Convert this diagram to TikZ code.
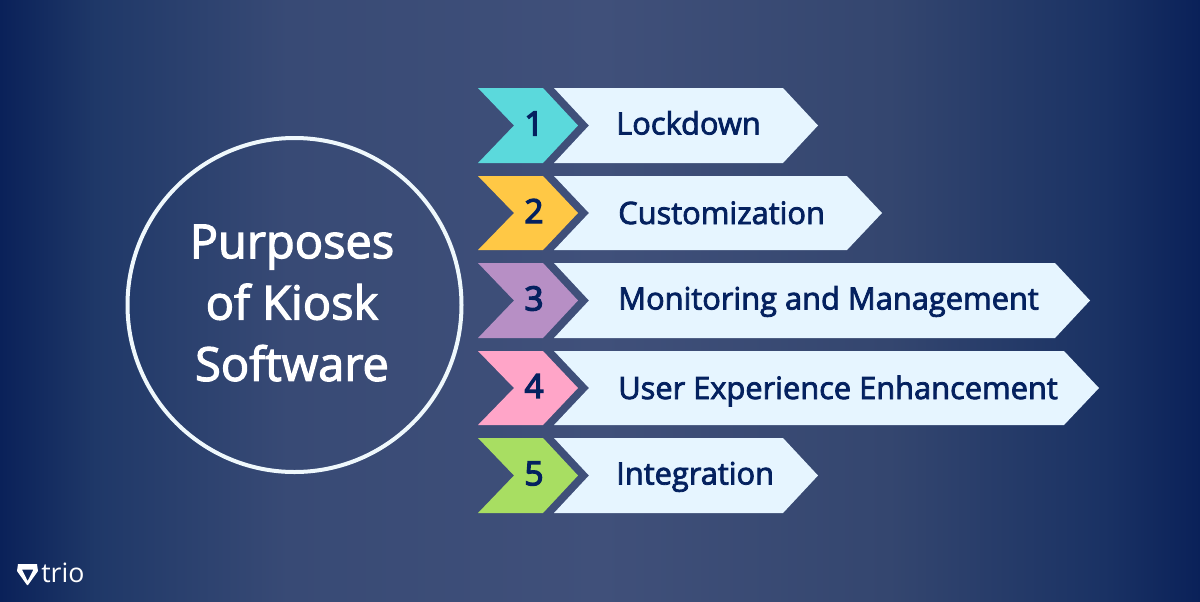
\documentclass[tikz,border=0pt]{standalone}
\usepackage{fontspec}
\setmainfont{Open Sans}
\usepackage{tikz}
\usetikzlibrary{positioning}
\newcommand{\heavy}[2][0.6]{\special{pdf:code 2 Tr #1 w}#2\special{pdf:code 0 Tr 1 w}}
\definecolor{navytext}{HTML}{04215F}
\definecolor{palearrow}{HTML}{E6F5FF}
\definecolor{ringwhite}{HTML}{EFF8FC}
\definecolor{tealtag}{HTML}{5BD9DC}
\definecolor{goldtag}{HTML}{FFC845}
\definecolor{mauvetag}{HTML}{B78FC5}
\definecolor{pinktag}{HTML}{FFA5C8}
\definecolor{greentag}{HTML}{A8DE62}
\definecolor{bgedge}{HTML}{0A2159}
\definecolor{bgouter}{HTML}{1F3868}
\definecolor{bgmid}{HTML}{384A75}
\definecolor{bgpeak}{HTML}{40507A}
\definecolor{bgright}{HTML}{34466F}
\definecolor{bgfar}{HTML}{1A3264}
\pgfdeclarehorizontalshading{bgshade}{100bp}{
  color(0bp)=(bgedge);
  color(25bp)=(bgedge);
  color(29bp)=(bgouter);
  color(37bp)=(bgmid);
  color(50bp)=(bgpeak);
  color(62bp)=(bgright);
  color(71bp)=(bgfar);
  color(75bp)=(bgedge);
  color(100bp)=(bgedge)}
\begin{document}
\begin{tikzpicture}[
  x=0.75pt, y=-0.75pt,
  tagtext/.style={font=\fontsize{25}{30}\selectfont, text=navytext, inner sep=0pt},
  itemtext/.style={font=\fontsize{23.1}{26}\selectfont, text=navytext, anchor=base west, inner sep=0pt},
  titletext/.style={font=\fontsize{35.2}{46}\selectfont, text=white, align=center, inner sep=0pt}
]
  \useasboundingbox (0,0) rectangle (1200,601);
  \shade[shading=bgshade] (0,0) rectangle (1200,601);

  \node[circle, draw=ringwhite, line width=3pt, minimum size=250.5pt, inner sep=0pt] (ring) at (294.5,305) {};
  \node[titletext] (title) at (292,303) {\heavy[0.9]{Purposes}\\\heavy[0.9]{of Kiosk}\\\heavy[0.9]{Software}};

  % rows: top, bottom, shoulder, colour, number, text x, baseline, text
  \foreach \ytop/\ybot/\xsh/\col/\num/\xtxt/\ybase/\txt in {
    88/163/783/tealtag/1/616/134.5/Lockdown,
    176/250/847/goldtag/2/618/224/Customization,
    263/338/1055/mauvetag/3/618/309.5/Monitoring and Management,
    351/425/1064/pinktag/4/618/399/User Experience Enhancement,
    438/513/783/greentag/5/616/484.5/Integration} {
    \pgfmathsetmacro{\ymid}{(\ytop+\ybot)/2}
    \fill[\col] (478,\ytop) -- (543,\ytop) -- (578,\ymid) -- (543,\ybot) -- (478,\ybot) -- (514,\ymid) -- cycle;
    \fill[palearrow] (554,\ytop) -- (\xsh,\ytop) -- (\xsh+35,\ymid) -- (\xsh,\ybot) -- (554,\ybot) -- (589,\ymid) -- cycle;
    \node[tagtext] (tag\num) at (534,\ymid-2) {\heavy[1]{\num}};
    \node[itemtext] (item\num) at (\xtxt,\ybase) {\heavy{\txt}};
  }

  % logo
  \fill[white, even odd rule] (18,564) -- (37,564) -- (38,571) -- (28,585) -- (27,585) -- (17,571) -- cycle
    (22,569.5) -- (33.5,569.5) -- (27.6,581) -- cycle;
  \node[font=\fontsize{20}{24}\selectfont, text=white, anchor=base west, inner sep=0pt] (logo) at (41,582) {trio};
\end{tikzpicture}
\end{document}
